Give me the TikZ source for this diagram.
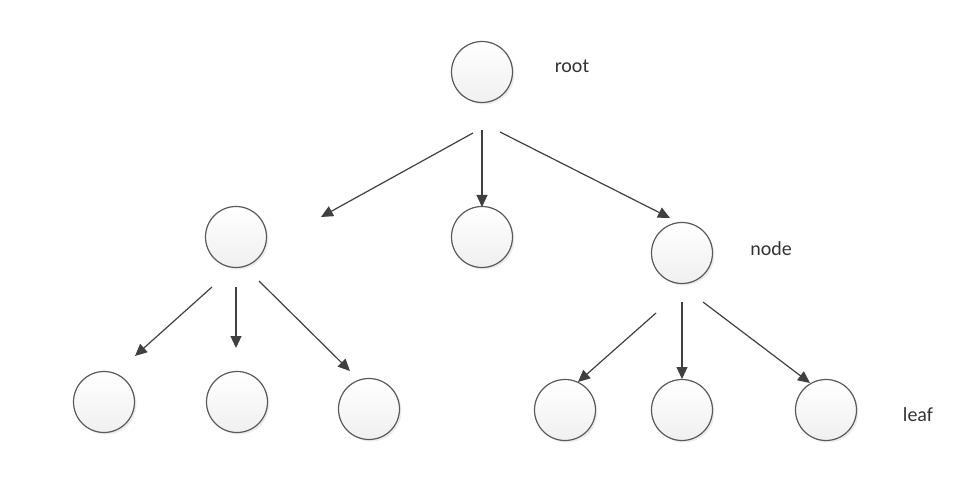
\documentclass[tikz,border=0pt]{standalone}
\usepackage{fontspec}
\setmainfont{Carlito}
\usetikzlibrary{arrows.meta,shadows}
\definecolor{edge}{HTML}{404040}
\definecolor{rim}{HTML}{5A5A5A}
\tikzset{
  treenode/.style={circle, draw=rim, line width=1.2pt, minimum size=61pt, inner sep=0pt,
    top color=white, bottom color=black!6,
    drop shadow={opacity=0.15, shadow xshift=2pt, shadow yshift=-2pt}},
  link/.style={draw=edge, line width=1.2pt, -{Triangle[length=12pt,width=11pt]}},
  lab/.style={text=black!80, font=\fontsize{20}{24}\selectfont, inner sep=0pt}
}
\begin{document}
\begin{tikzpicture}[x=1pt,y=-1pt]
\useasboundingbox (0,0) rectangle (967,481);
% nodes
\node[treenode] (r) at (482,72) {};
\node[treenode] (a) at (236,237) {};
\node[treenode] (b) at (482,237) {};
\node[treenode] (c) at (682,253) {};
\node[treenode] (a1) at (104,402) {};
\node[treenode] (a2) at (237,402) {};
\node[treenode] (a3) at (369,409) {};
\node[treenode] (c1) at (565,410) {};
\node[treenode] (c2) at (682,410) {};
\node[treenode] (c3) at (826,410) {};
% labels
\node[lab] (lr) at (572,66) {root};
\node[lab] (lc) at (771,249) {node};
\node[lab] (ll) at (918,415) {leaf};
% connector end points
\coordinate (rL0) at (473,133); \coordinate (rL1) at (321,217);
\coordinate (rM0) at (482,130); \coordinate (rM1) at (482,207);
\coordinate (rR0) at (500,132); \coordinate (rR1) at (670,218);
\coordinate (aL0) at (212,287); \coordinate (aL1) at (135,356);
\coordinate (aM0) at (236,287); \coordinate (aM1) at (236,348);
\coordinate (aR0) at (259,281); \coordinate (aR1) at (350,371);
\coordinate (cL0) at (656,313); \coordinate (cL1) at (578,382);
\coordinate (cM0) at (682,302); \coordinate (cM1) at (682,379);
\coordinate (cR0) at (703,302); \coordinate (cR1) at (810,383);
% connectors
\draw[link] (rL0) -- (rL1);
\draw[link] (rM0) -- (rM1);
\draw[link] (rR0) -- (rR1);
\draw[link] (aL0) -- (aL1);
\draw[link] (aM0) -- (aM1);
\draw[link] (aR0) -- (aR1);
\draw[link] (cL0) -- (cL1);
\draw[link] (cM0) -- (cM1);
\draw[link] (cR0) -- (cR1);
\end{tikzpicture}
\end{document}
